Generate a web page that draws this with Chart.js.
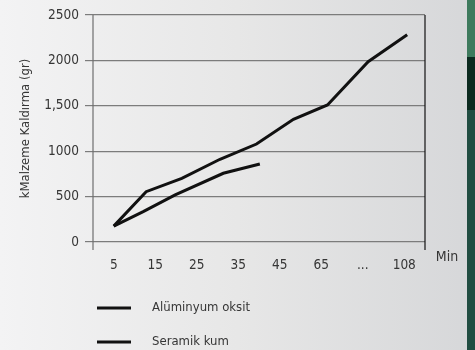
<!DOCTYPE html>
<html>
<head>
<meta charset="utf-8">
<script src="https://cdn.jsdelivr.net/npm/chart.js@4/dist/chart.umd.min.js"></script>
<style>
  html, body { margin: 0; padding: 0; }
  body {
    width: 475px; height: 350px; overflow: hidden; position: relative;
    background: linear-gradient(to right, #f3f3f4 0%, #e7e7e7 50%, #d6d7d9 100%);
  }
  #strip { position: absolute; left: 467px; top: 0; width: 8px; height: 350px;
    background: linear-gradient(to bottom, #3e7a5d 0px, #3e7a5d 57px, #0b2a1f 57px, #0b2a1f 110px, #214d42 110px); }
  #wrap { position: absolute; left: 0; top: 0; width: 475px; height: 350px; }
</style>
</head>
<body>
<div id="strip"></div>
<div id="wrap"><canvas id="canvas" width="475" height="350"></canvas></div>
<script>
// category labels on the x axis
var xLabels = ['5', '15', '25', '35', '45', '65', '...', '108'];
var xUnit = 'Min';
var yTitle = 'kMalzeme Kaldırma (gr)';
var yTickLabels = ['0', '500', '1000', '1,500', '2000', '2500'];

// series (x = position along the categories)
var aluminyumX = [0, 0.78, 1.64, 2.56, 3.44, 4.33, 5.15, 6.13, 7.07];
var aluminyumY = [175, 554, 701, 911, 1079, 1351, 1509, 1986, 2283];
var seramikX = [0, 0.71, 1.48, 2.64, 3.52];
var seramikY = [175, 334, 518, 757, 859];

var seriesNames = ['Alüminyum oksit', 'Seramik kum'];

function toPoints(xs, ys) {
  return xs.map(function(x, i) { return {x: x, y: ys[i]}; });
}

var FONT = '"Liberation Sans Narrow", "DejaVu Sans Condensed", sans-serif';
var TEXT = '#363636';

var extras = {
  id: 'extras',
  afterDraw: function(chart) {
    var ctx = chart.ctx, a = chart.chartArea;
    ctx.save();
    // left axis line (gray) and right border (black), both running a bit below zero
    ctx.lineWidth = 1.2;
    ctx.strokeStyle = '#6e6e6e';
    ctx.beginPath(); ctx.moveTo(a.left, a.top); ctx.lineTo(a.left, a.bottom + 8); ctx.stroke();
    ctx.strokeStyle = '#111';
    ctx.beginPath(); ctx.moveTo(a.right, a.top); ctx.lineTo(a.right, a.bottom + 8); ctx.stroke();
    // unit label of the x axis
    ctx.font = '14px ' + FONT;
    ctx.fillStyle = TEXT;
    ctx.textAlign = 'center';
    ctx.textBaseline = 'middle';
    ctx.fillText(xUnit, a.right + 22, a.bottom + 15);
    // legend
    ctx.font = '13px ' + FONT;
    chart.data.datasets.forEach(function(ds, i) {
      var y = 308 + i * 34;
      ctx.strokeStyle = ds.borderColor;
      ctx.lineWidth = 3;
      ctx.beginPath(); ctx.moveTo(97, y); ctx.lineTo(131, y); ctx.stroke();
      ctx.fillStyle = TEXT;
      ctx.textAlign = 'left';
      ctx.fillText(ds.label, 152, y);
    });
    ctx.restore();
  }
};

var ctx = document.getElementById('canvas');
window.myLine = new Chart(ctx, {
  type: 'line',
  data: {
    datasets: [{
      label: seriesNames[0],
      data: toPoints(aluminyumX, aluminyumY),
      borderColor: '#111',
      borderWidth: 3,
      pointRadius: 0,
      tension: 0
    }, {
      label: seriesNames[1],
      data: toPoints(seramikX, seramikY),
      borderColor: '#111',
      borderWidth: 3,
      pointRadius: 0,
      tension: 0
    }]
  },
  options: {
    responsive: false,
    animation: false,
    layout: { padding: { top: 15, right: 50, bottom: 0, left: 0 } },
    plugins: { legend: { display: false }, tooltip: { enabled: false } },
    scales: {
      x: {
        type: 'linear',
        min: -0.5,
        max: 7.5,
        grid: { display: false },
        border: { display: false },
        afterBuildTicks: function(scale) {
          scale.ticks = xLabels.map(function(l, i) { return {value: i}; });
        },
        afterFit: function(scale) { scale.height = 108; },
        ticks: {
          padding: 7,
          color: TEXT,
          font: { family: FONT, size: 13.5 },
          maxRotation: 0,
          callback: function(v) { return xLabels[v]; }
        }
      },
      y: {
        min: 0,
        max: 2500,
        afterFit: function(scale) { scale.width = 93; },
        grid: { color: '#7c7c7c', lineWidth: 1.2, tickLength: 8, drawOnChartArea: true },
        border: { display: false },
        ticks: {
          stepSize: 500,
          padding: 6,
          color: TEXT,
          font: { family: FONT, size: 13.5 },
          callback: function(v) { return yTickLabels[v / 500]; }
        },
        title: {
          display: true,
          text: yTitle,
          color: TEXT,
          font: { family: FONT, size: 13 },
          padding: { top: 18, bottom: 0 }
        }
      }
    }
  },
  plugins: [extras]
});
</script>
</body>
</html>
